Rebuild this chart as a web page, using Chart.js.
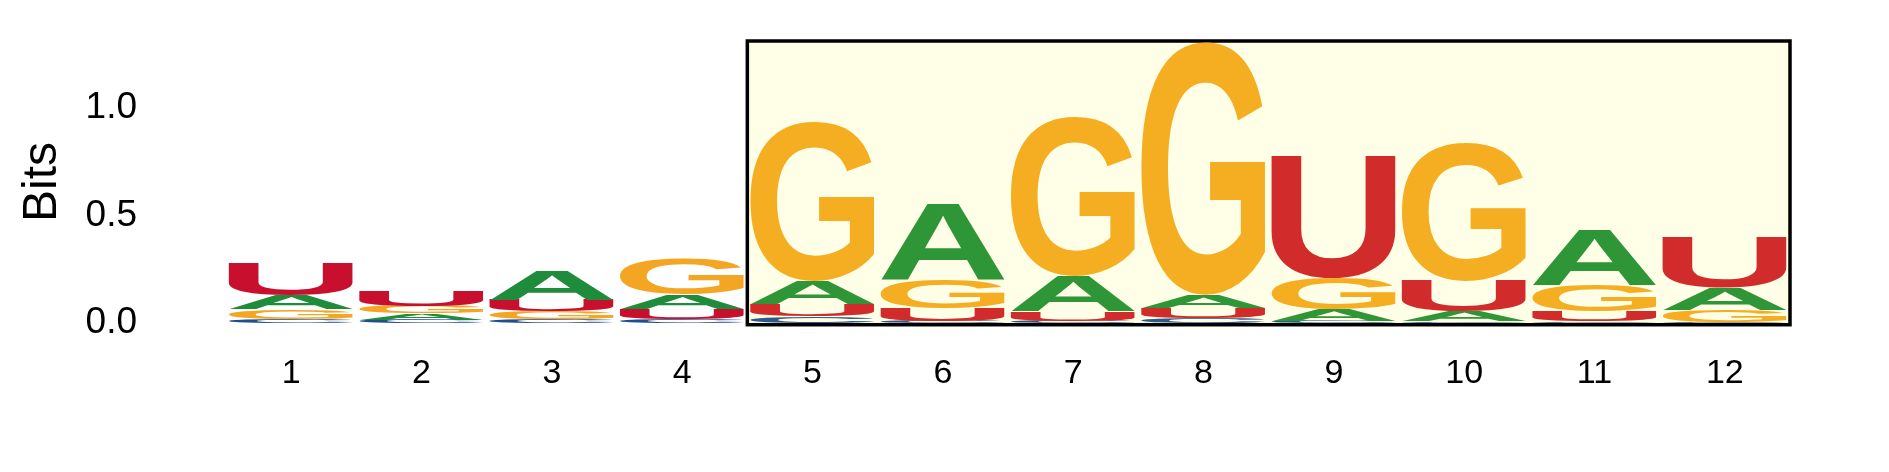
<!DOCTYPE html>
<html>
<head>
<meta charset="utf-8">
<script src="https://cdn.jsdelivr.net/npm/chart.js@4.4.1/dist/chart.umd.min.js"></script>
<style>
  html, body { margin: 0; padding: 0; background: #ffffff; }
  canvas { display: block; }
</style>
</head>
<body>
<canvas id="logoChart" width="1889" height="472"></canvas>
<script>
const positions = ['1', '2', '3', '4', '5', '6', '7', '8', '9', '10', '11', '12'];

// stacks from bottom (layer 1) to top (layer 4)
const layer1Letters = ['C', 'C', 'C', 'C', 'C', 'C', 'C', 'C', 'C', 'C', 'C', 'C'];
const layer1Bits = [0.020, 0.015, 0.018, 0.016, 0.032, 0.010, 0.010, 0.023, 0.010, 0.008, 0.008, 0.005];
const layer2Letters = ['G', 'A', 'G', 'U', 'U', 'U', 'U', 'U', 'A', 'A', 'U', 'G'];
const layer2Bits = [0.044, 0.030, 0.035, 0.047, 0.055, 0.060, 0.044, 0.048, 0.052, 0.047, 0.047, 0.055];
const layer3Letters = ['A', 'G', 'U', 'A', 'A', 'G', 'A', 'A', 'G', 'U', 'G', 'A'];
const layer3Bits = [0.063, 0.034, 0.055, 0.068, 0.106, 0.134, 0.163, 0.060, 0.147, 0.142, 0.119, 0.103];
const layer4Letters = ['U', 'U', 'A', 'G', 'G', 'A', 'G', 'G', 'U', 'G', 'A', 'U'];
const layer4Bits = [0.150, 0.071, 0.134, 0.166, 0.740, 0.351, 0.740, 1.175, 0.570, 0.640, 0.260, 0.235];

const yTicks = [0, 0.5, 1.0];
const yMax = 1.31;
// highlighted region: positions 5..12
const highlightFrom = 5;
const highlightTo = 12;

const colorsOut = { U: '#c8102e', A: '#1e8c3a', G: '#f4a623', C: '#1f4e8c' };
const colorsIn = { U: '#d12b2b', A: '#2f9637', G: '#f5ae22', C: '#2c5a88' };

const layers = [
    { letters: layer1Letters, bits: layer1Bits },
    { letters: layer2Letters, bits: layer2Bits },
    { letters: layer3Letters, bits: layer3Bits },
    { letters: layer4Letters, bits: layer4Bits }
];

const glyphFont = 'bold 200px "Liberation Sans", Arial, sans-serif';

function drawGlyph(ctx, letter, left, top, w, h) {
    if (w <= 0 || h <= 0.3) return;
    ctx.save();
    ctx.font = glyphFont;
    ctx.textAlign = 'left';
    ctx.textBaseline = 'alphabetic';
    const m = ctx.measureText(letter);
    const gw = m.actualBoundingBoxLeft + m.actualBoundingBoxRight;
    const gh = m.actualBoundingBoxAscent + m.actualBoundingBoxDescent;
    ctx.translate(left, top);
    ctx.scale(w / gw, h / gh);
    ctx.fillText(letter, m.actualBoundingBoxLeft, m.actualBoundingBoxAscent);
    ctx.restore();
}

function boxEdges(chart) {
    const { x, y } = chart.scales;
    return {
        x1: x.getPixelForValue(highlightFrom - 1.5),
        x2: x.getPixelForValue(highlightTo - 0.5),
        y1: y.getPixelForValue(yMax),
        y2: y.getPixelForValue(-0.008)
    };
}

const highlightBox = {
    id: 'highlightBox',
    beforeDatasetsDraw(chart) {
        const b = boxEdges(chart);
        const ctx = chart.ctx;
        ctx.save();
        ctx.fillStyle = '#fffee6';
        ctx.fillRect(b.x1, b.y1, b.x2 - b.x1, b.y2 - b.y1);
        ctx.restore();
    },
    afterDatasetsDraw(chart) {
        const b = boxEdges(chart);
        const ctx = chart.ctx;
        ctx.save();
        ctx.strokeStyle = '#000000';
        ctx.lineWidth = 3.5;
        ctx.strokeRect(b.x1, b.y1, b.x2 - b.x1, b.y2 - b.y1);
        ctx.restore();
    }
};

const letterStacks = {
    id: 'letterStacks',
    afterDatasetsDraw(chart) {
        const ctx = chart.ctx;
        chart.data.datasets.forEach((ds, i) => {
            const meta = chart.getDatasetMeta(i);
            meta.data.forEach((bar, j) => {
                const p = bar.getProps(['x', 'y', 'base', 'width'], true);
                const top = Math.min(p.y, p.base);
                const h = Math.abs(p.base - p.y);
                const letter = ds.letters[j];
                const pos = j + 1;
                const inBox = pos >= highlightFrom && pos <= highlightTo;
                ctx.fillStyle = (inBox ? colorsIn : colorsOut)[letter];
                drawGlyph(ctx, letter, p.x - p.width / 2, top, p.width, h);
            });
        });
    }
};

const ctx = document.getElementById('logoChart').getContext('2d');
const chart = new Chart(ctx, {
    type: 'bar',
    data: {
        labels: positions,
        datasets: layers.map((l, i) => ({
            label: 'layer ' + (i + 1),
            data: l.bits,
            letters: l.letters,
            backgroundColor: 'rgba(0,0,0,0)',
            borderWidth: 0,
            barPercentage: 0.955,
            categoryPercentage: 1.0
        }))
    },
    options: {
        responsive: false,
        animation: false,
        layout: {
            padding: { left: 0, right: 99, top: 41, bottom: 60 }
        },
        plugins: {
            legend: { display: false },
            tooltip: { enabled: false }
        },
        scales: {
            x: {
                stacked: true,
                grid: { display: false, drawTicks: false },
                border: { display: false },
                ticks: {
                    color: '#000000',
                    padding: 30,
                    font: { family: '"Liberation Sans", Arial, sans-serif', size: 34 }
                },
                afterFit(scale) { scale.height = 89; }
            },
            y: {
                stacked: true,
                min: 0,
                max: yMax,
                grid: { display: false, drawTicks: false },
                border: { display: false },
                afterBuildTicks(scale) {
                    scale.ticks = yTicks.map(v => ({ value: v }));
                },
                afterFit(scale) {
                    scale.width = 226;
                    // the large label padding must not push the plot area down
                    scale.paddingTop = 0;
                    scale.paddingBottom = 0;
                },
                ticks: {
                    color: '#000000',
                    padding: 89,
                    font: { family: '"Liberation Sans", Arial, sans-serif', size: 37 },
                    callback: v => Number(v).toFixed(1)
                },
                title: {
                    display: true,
                    text: 'Bits',
                    color: '#000000',
                    padding: { top: 14, bottom: 0 },
                    font: { family: '"Liberation Sans", Arial, sans-serif', size: 48 }
                }
            }
        }
    },
    plugins: [highlightBox, letterStacks]
});
</script>
</body>
</html>
